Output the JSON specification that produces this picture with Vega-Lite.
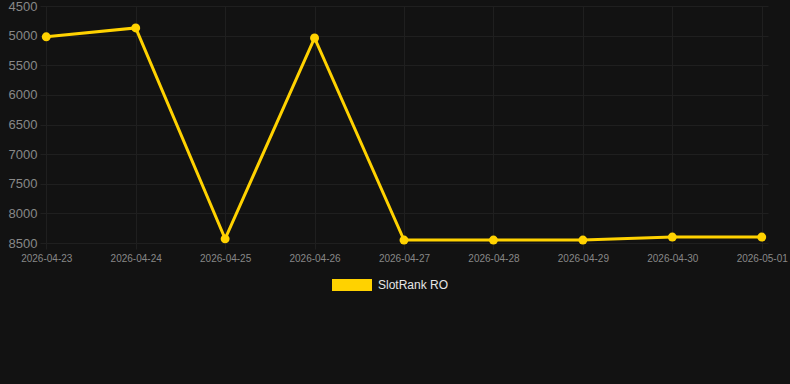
{
  "$schema": "https://vega.github.io/schema/vega-lite/v6.json",
  "autosize": "none",
  "width": 728,
  "height": 237,
  "padding": {"left": 40, "top": 6, "right": 22, "bottom": 141},
  "background": "#121212",
  "config": {
    "view": {"stroke": null},
    "font": "Liberation Sans",
    "axis": {"domain": false, "gridColor": "#1f1f1f", "tickColor": "#1f1f1f", "labelColor": "#888888", "title": null}
  },
  "data": {
    "values": [
      {"date": "2026-04-23", "rank": 5020, "series": "SlotRank RO"},
      {"date": "2026-04-24", "rank": 4870, "series": "SlotRank RO"},
      {"date": "2026-04-25", "rank": 8430, "series": "SlotRank RO"},
      {"date": "2026-04-26", "rank": 5040, "series": "SlotRank RO"},
      {"date": "2026-04-27", "rank": 8450, "series": "SlotRank RO"},
      {"date": "2026-04-28", "rank": 8450, "series": "SlotRank RO"},
      {"date": "2026-04-29", "rank": 8450, "series": "SlotRank RO"},
      {"date": "2026-04-30", "rank": 8400, "series": "SlotRank RO"},
      {"date": "2026-05-01", "rank": 8400, "series": "SlotRank RO"}
    ]
  },
  "mark": {"type": "line", "strokeWidth": 3, "point": {"size": 80, "filled": true, "opacity": 1}},
  "encoding": {
    "x": {
      "field": "date", "type": "ordinal",
      "scale": {"type": "point", "padding": 0.07},
      "axis": {"labelAngle": 0, "labelFontSize": 10, "tickSize": 6, "labelPadding": 4, "grid": true}
    },
    "y": {
      "field": "rank", "type": "quantitative",
      "scale": {"domain": [4500, 8500], "reverse": true, "nice": false, "zero": false},
      "axis": {"values": [4500, 5000, 5500, 6000, 6500, 7000, 7500, 8000, 8500], "labelFontSize": 13, "ticks": false, "labelPadding": 3, "grid": true, "format": "d"}
    },
    "color": {
      "field": "series", "type": "nominal",
      "scale": {"range": ["#FFD200"]},
      "legend": {
        "title": null, "orient": "none", "legendX": 292, "legendY": 259,
        "padding": 0,
        "symbolType": "M-1,-0.3H1V0.3H-1Z", "symbolSize": 1600,
        "symbolFillColor": "#FFD200", "symbolStrokeWidth": 0,
        "labelColor": "#e6e6e6", "labelFontSize": 12, "labelOffset": 6,
        "encode": {"symbols": {"update": {"fill": {"value": "#FFD200"}, "strokeWidth": {"value": 0}, "opacity": {"value": 1}}}}
      }
    }
  }
}
